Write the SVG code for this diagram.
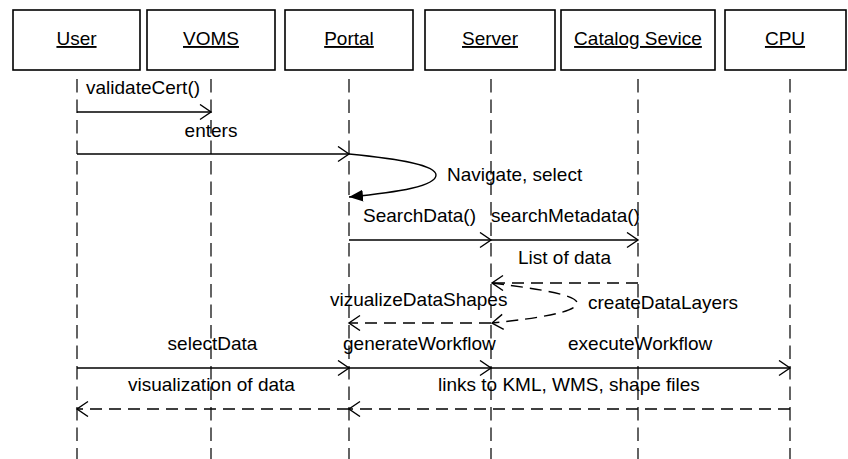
<svg xmlns="http://www.w3.org/2000/svg" width="848" height="459" viewBox="0 0 848 459">
<style>
text{font-family:"Liberation Sans",Arial,sans-serif;font-size:19px;fill:#000}
.box{fill:#fff;stroke:#000;stroke-width:1.6}
.life{stroke:#111;stroke-width:1.3;stroke-dasharray:13.5,7;fill:none}
.msg{stroke:#000;stroke-width:1.4;fill:none}
.ret{stroke:#000;stroke-width:1.4;fill:none;stroke-dasharray:12,7}
.lbl{text-decoration:underline;text-anchor:middle}
</style>
<defs>
<marker id="open" markerUnits="userSpaceOnUse" markerWidth="16" markerHeight="18" refX="12" refY="8" orient="auto">
<path d="M1,0.5 L12,8 L1,15.5" fill="none" stroke="#000" stroke-width="1.4"/>
</marker>
<marker id="fill" markerUnits="userSpaceOnUse" markerWidth="16" markerHeight="16" refX="14" refY="6" orient="auto">
<path d="M0,0 L14,6 L0,12 Z" fill="#000"/>
</marker>
</defs>
<g id="user"><rect class="box" x="13" y="10" width="127" height="60"/><text class="lbl" x="76.5" y="45">User</text><line class="life" x1="77" y1="79" x2="77" y2="459"/></g>
<g id="voms"><rect class="box" x="147" y="10" width="128" height="60"/><text class="lbl" x="211" y="45">VOMS</text><line class="life" x1="211" y1="79" x2="211" y2="459"/></g>
<g id="portal"><rect class="box" x="285" y="10" width="128" height="60"/><text class="lbl" x="349" y="45">Portal</text><line class="life" x1="349" y1="79" x2="349" y2="459"/></g>
<g id="server"><rect class="box" x="425" y="10" width="130" height="60"/><text class="lbl" x="490" y="45">Server</text><line class="life" x1="491" y1="79" x2="491" y2="459"/></g>
<g id="catalog"><rect class="box" x="561" y="10" width="154" height="60"/><text class="lbl" x="638" y="45">Catalog Sevice</text><line class="life" x1="638" y1="79" x2="638" y2="459"/></g>
<g id="cpu"><rect class="box" x="725" y="10" width="121" height="60"/><text class="lbl" x="785" y="45">CPU</text><line class="life" x1="790" y1="79" x2="790" y2="459"/></g>
<g id="connectors">
<line class="msg" x1="77" y1="112" x2="211" y2="112" marker-end="url(#open)"/>
<line class="msg" x1="77" y1="154" x2="349" y2="154" marker-end="url(#open)"/>
<path class="msg" d="M349,154 C400,159 436,165 436,175 C436,186 400,192 349,197" marker-end="url(#fill)"/>
<line class="msg" x1="349" y1="240" x2="491" y2="240" marker-end="url(#open)"/>
<line class="msg" x1="491" y1="240" x2="638" y2="240" marker-end="url(#open)"/>
<line class="ret" x1="638" y1="283" x2="492" y2="283" marker-end="url(#open)"/>
<path class="ret" d="M492,283 C540,289 577,295 577,303 C577,312 540,318 492,323" marker-end="url(#open)"/>
<line class="ret" x1="491" y1="323" x2="349" y2="323" marker-end="url(#open)"/>
<line class="msg" x1="77" y1="368" x2="349" y2="368" marker-end="url(#open)"/>
<line class="msg" x1="349" y1="368" x2="491" y2="368" marker-end="url(#open)"/>
<line class="msg" x1="491" y1="368" x2="790" y2="368" marker-end="url(#open)"/>
<line class="ret" x1="349" y1="409" x2="77" y2="409" marker-end="url(#open)"/>
<line class="ret" x1="790" y1="409" x2="349" y2="409" marker-end="url(#open)"/>
</g>
<g id="labels">
<text x="86" y="94">validateCert()</text>
<text x="211" y="137" text-anchor="middle">enters</text>
<text x="447" y="181">Navigate, select</text>
<text x="363" y="221.5">SearchData()</text>
<text x="491" y="221.5">searchMetadata()</text>
<text x="518" y="263.5">List of data</text>
<text x="330" y="306">vizualizeDataShapes</text>
<text x="588" y="309">createDataLayers</text>
<text x="212.5" y="349.5" text-anchor="middle">selectData</text>
<text x="343" y="349.5">generateWorkflow</text>
<text x="568" y="349.5">executeWorkflow</text>
<text x="128" y="391">visualization of data</text>
<text x="438" y="391">links to KML, WMS, shape files</text>
</g>
</svg>
